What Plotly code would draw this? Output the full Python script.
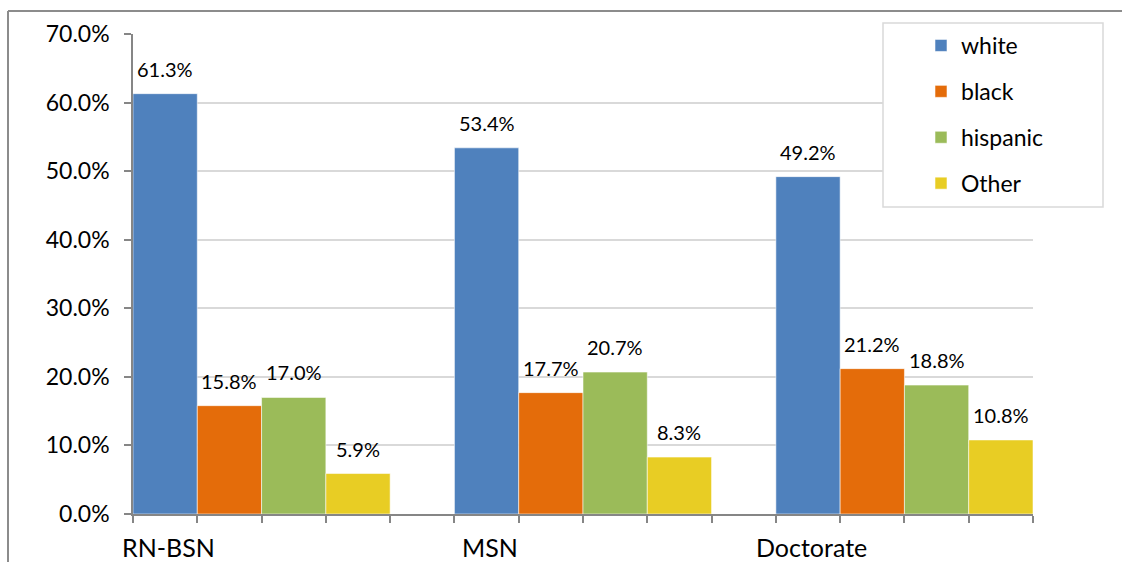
import plotly.graph_objects as go

# Share of students by race/ethnicity for each nursing degree level (percent)
categories = ["RN-BSN", "MSN", "Doctorate"]
series_names = ["white", "black", "hispanic", "Other"]
white = [61.3, 53.4, 49.2]
black = [15.8, 17.7, 21.2]
hispanic = [17.0, 20.7, 18.8]
other = [5.9, 8.3, 10.8]
y_ticks = [0, 10, 20, 30, 40, 50, 60, 70]

series_values = [white, black, hispanic, other]
colors = ["#4F81BD", "#E46C0A", "#9BBB59", "#E8CD24"]

FONT = "Lato, 'Open Sans', sans-serif"
AXIS_GRAY = "#868686"
GRID = "#D9D9D9"

# bar slots: 4 bars per group, one empty slot between groups
n_series = len(series_names)
group_step = n_series + 1
bar_w = 1.0
x_max = group_step * (len(categories) - 1) + n_series

fig = go.Figure()
for j, (name, vals, col) in enumerate(zip(series_names, series_values, colors)):
    xs = [i * group_step + j * bar_w + bar_w / 2 for i in range(len(categories))]
    fig.add_trace(go.Bar(
        x=xs, y=vals, width=bar_w, name=name, legendgroup=name,
        marker=dict(color=col, line=dict(color="rgba(255,255,255,0.55)", width=1)),
        hoverinfo="skip",
    ))
    for x, v in zip(xs, vals):
        fig.add_annotation(
            x=x, y=v, xref="x", yref="y", text=f"{v:.1f}%", showarrow=False,
            yanchor="bottom", yshift=11, font=dict(family=FONT, size=20, color="#000"),
        )

# category names below the axis, under the first bar of each group
for i, cat in enumerate(categories):
    fig.add_annotation(
        x=i * group_step + 0.55, y=0, xref="x", yref="paper", text=cat, showarrow=False,
        yanchor="top", yshift=-16, font=dict(family=FONT, size=25, color="#000"),
    )

plot_l, plot_r, plot_t, plot_b = 133, 1033, 34, 514
pw, ph = plot_r - plot_l, plot_b - plot_t

def px_x(p):
    return (p - plot_l) / pw

def px_y(p):
    return (plot_b - p) / ph

shapes = [
    # chart frame (left and top edges)
    dict(type="line", xref="paper", yref="paper", x0=px_x(8), x1=px_x(8), y0=px_y(570), y1=px_y(11),
         line=dict(color="#8C8C8C", width=2)),
    dict(type="line", xref="paper", yref="paper", x0=px_x(8), x1=px_x(1130), y0=px_y(11), y1=px_y(11),
         line=dict(color="#8C8C8C", width=2)),
    # legend box
    dict(type="rect", xref="paper", yref="paper", x0=px_x(883), x1=px_x(1103), y0=px_y(207), y1=px_y(23),
         line=dict(color=GRID, width=1.5), fillcolor="white", layer="above"),
]

fig.update_layout(
    width=1122, height=562,
    margin=dict(l=plot_l, r=1122 - plot_r, t=plot_t, b=562 - plot_b, pad=0),
    paper_bgcolor="white", plot_bgcolor="white",
    barmode="overlay",
    font=dict(family=FONT, color="#000"),
    showlegend=True,
    legend=dict(
        x=px_x(921), y=px_y(24), xanchor="left", yanchor="top",
        bgcolor="rgba(0,0,0,0)", borderwidth=0,
        font=dict(family=FONT, size=23, color="#000"),
        tracegroupgap=13, traceorder="grouped",
    ),
    xaxis=dict(
        range=[0, x_max],
        tickmode="linear", tick0=0, dtick=1, showticklabels=False,
        ticks="outside", ticklen=7, tickwidth=1.5, tickcolor=AXIS_GRAY,
        showline=True, linecolor=AXIS_GRAY, linewidth=1.5,
        showgrid=False, zeroline=False, fixedrange=True,
    ),
    yaxis=dict(
        range=[0, 70], tickvals=y_ticks, ticktext=[f"{t:.1f}%" for t in y_ticks],
        ticks="outside", ticklen=7, tickwidth=1.5, tickcolor=AXIS_GRAY,
        ticklabelstandoff=10,
        showline=True, linecolor=AXIS_GRAY, linewidth=1.5,
        showgrid=True, gridcolor=GRID, gridwidth=1.5, zeroline=False,
        tickfont=dict(family=FONT, size=23, color="#000"), fixedrange=True,
    ),
    shapes=shapes,
)

fig.write_html("out.html")
